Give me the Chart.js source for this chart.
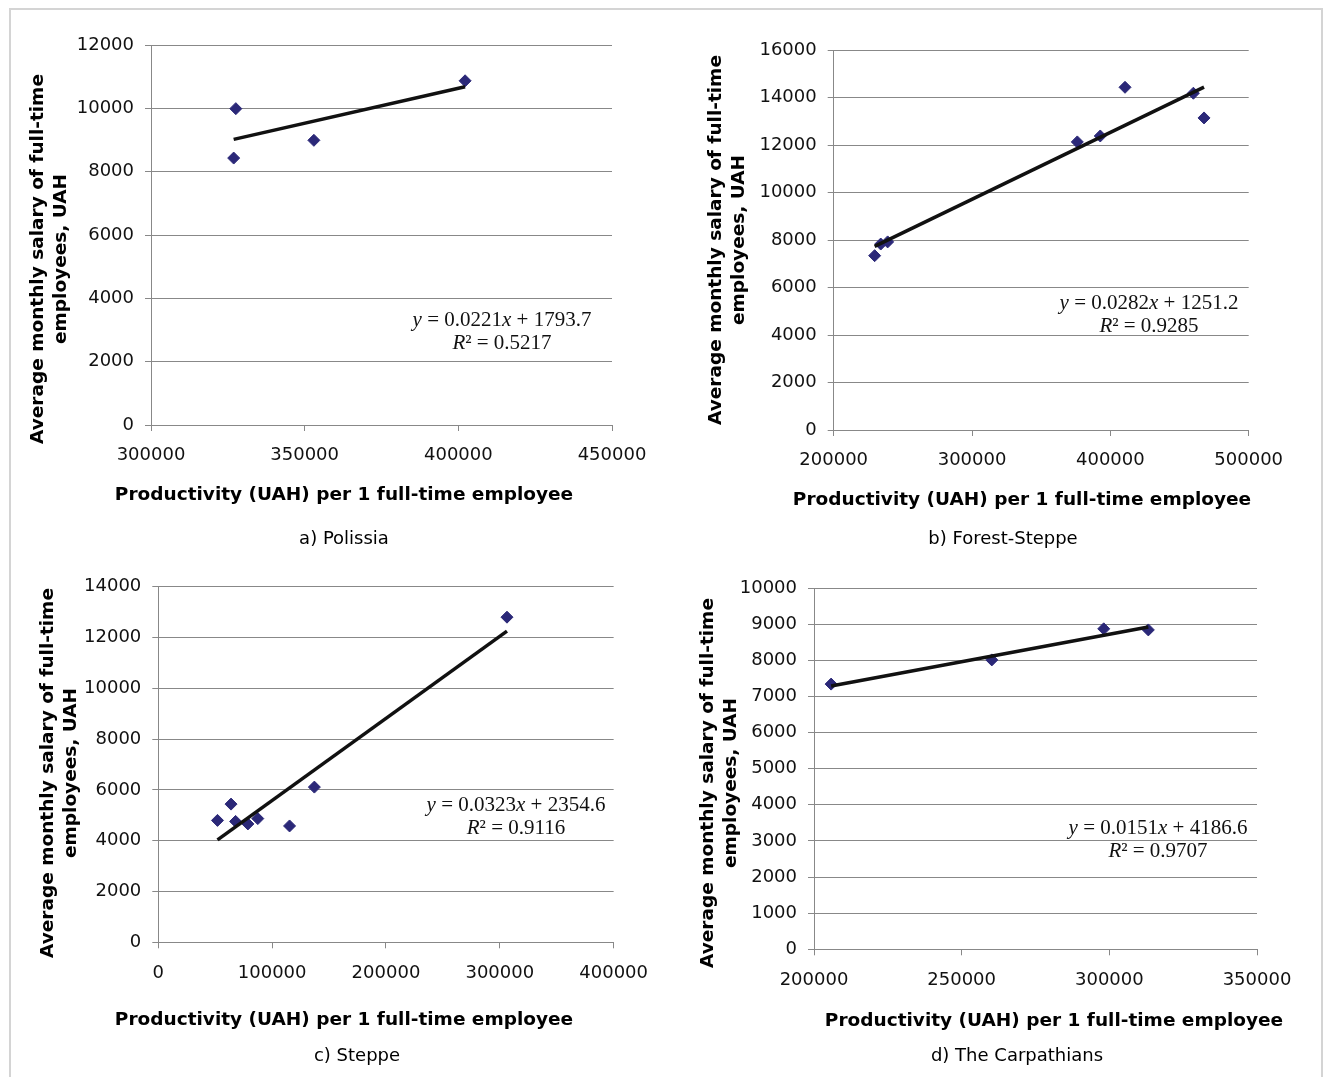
<!DOCTYPE html>
<html><head><meta charset="utf-8">
<script src="https://cdn.jsdelivr.net/npm/chart.js@4/dist/chart.umd.min.js"></script>
<style>
html,body{margin:0;padding:0;background:#fff;}
body{width:1325px;height:1077px;position:relative;overflow:hidden;}
#frame{position:absolute;left:9px;top:8px;width:1314px;height:1100px;border:2px solid #d4d4d4;box-sizing:border-box;}
canvas{position:absolute;}
</style></head><body>
<div id="frame"></div>
<canvas id="cA" width="662" height="560" style="left:0;top:0"></canvas>
<canvas id="cB" width="663" height="560" style="left:662px;top:0"></canvas>
<canvas id="cC" width="662" height="517" style="left:0;top:560px"></canvas>
<canvas id="cD" width="663" height="517" style="left:662px;top:560px"></canvas>
<script>
// ---------- data ----------
// a) Polissia
const polissiaX = [326900, 327600, 353000, 402200];
const polissiaY = [8430, 9990, 8990, 10870];
const polissiaTrendX = [326900, 402200];
const polissiaTrendY = [9020, 10680];
const polissiaTicksX = [300000, 350000, 400000, 450000];
const polissiaTicksY = [0, 2000, 4000, 6000, 8000, 10000, 12000];
const polissiaEq = ['y = 0.0221x + 1793.7', 'R² = 0.5217'];

// b) Forest-Steppe
const forestX = [229600, 234000, 239000, 376100, 392700, 410600, 460000, 467700];
const forestY = [7340, 7830, 7920, 12130, 12380, 14430, 14180, 13140];
const forestTrendX = [229600, 467700];
const forestTrendY = [7730, 14440];
const forestTicksX = [200000, 300000, 400000, 500000];
const forestTicksY = [0, 2000, 4000, 6000, 8000, 10000, 12000, 14000, 16000];
const forestEq = ['y = 0.0282x + 1251.2', 'R² = 0.9285'];

// c) Steppe
const steppeX = [52000, 63900, 67900, 78700, 87400, 115300, 137100, 306300];
const steppeY = [4800, 5440, 4760, 4660, 4870, 4580, 6110, 12800];
const steppeTrendX = [52000, 306300];
const steppeTrendY = [4030, 12250];
const steppeTicksX = [0, 100000, 200000, 300000, 400000];
const steppeTicksY = [0, 2000, 4000, 6000, 8000, 10000, 12000, 14000];
const steppeEq = ['y = 0.0323x + 2354.6', 'R² = 0.9116'];

// d) The Carpathians
const carpX = [205800, 260200, 298100, 313200];
const carpY = [7340, 8010, 8870, 8840];
const carpTrendX = [205800, 313200];
const carpTrendY = [7290, 8920];
const carpTicksX = [200000, 250000, 300000, 350000];
const carpTicksY = [0, 1000, 2000, 3000, 4000, 5000, 6000, 7000, 8000, 9000, 10000];
const carpEq = ['y = 0.0151x + 4186.6', 'R² = 0.9707'];

const yTitleLines = ['Average monthly salary of full-time', 'employees, UAH'];
const xTitleText = 'Productivity (UAH) per 1 full-time employee';
const captions = ['a) Polissia', 'b) Forest-Steppe', 'c) Steppe', 'd) The Carpathians'];

// ---------- drawing ----------
const GRID = '#888888';
const MARK = '#2b2878';
const Y_W = 95, X_H = 40;

function drawRich(ctx, text, cx, cy) {
  const normal = '21px "Liberation Serif"', ital = 'italic 21px "Liberation Serif"';
  const segs = [];
  for (const ch of text) {
    const it = /[xyR]/.test(ch);
    if (segs.length && segs[segs.length - 1].it === it) segs[segs.length - 1].t += ch;
    else segs.push({ t: ch, it });
  }
  let total = 0;
  segs.forEach(s => { ctx.font = s.it ? ital : normal; s.w = ctx.measureText(s.t).width; total += s.w; });
  let x = cx - total / 2;
  ctx.textAlign = 'left';
  segs.forEach(s => { ctx.font = s.it ? ital : normal; ctx.fillText(s.t, x, cy); x += s.w; });
}

const panelText = {
  id: 'panelText',
  afterDraw(chart, args, o) {
    const ctx = chart.ctx;
    ctx.save();
    ctx.translate(-o.ox, -o.oy);
    ctx.fillStyle = '#000';
    ctx.textBaseline = 'middle';
    ctx.textAlign = 'center';
    ctx.font = 'bold 18.5px "DejaVu Sans"';
    yTitleLines.forEach((ln, i) => {
      ctx.save();
      ctx.translate(o.yx[i], o.yy);
      ctx.rotate(-Math.PI / 2);
      ctx.fillText(ln, 0, 0);
      ctx.restore();
    });
    ctx.fillText(xTitleText, o.xt[0], o.xt[1]);
    ctx.font = '18px "DejaVu Sans"';
    ctx.fillText(o.cap, o.cp[0], o.cp[1]);
    ctx.fillStyle = '#111';
    o.eq.forEach((ln, i) => drawRich(ctx, ln, o.ex, o.ey[i]));
    ctx.restore();
  }
};

function pts(xs, ys) { return xs.map((x, i) => ({ x, y: ys[i] })); }

function makeChart(id, p) {
  const xs = p.ticksX, ys = p.ticksY;
  return new Chart(document.getElementById(id), {
    type: 'scatter',
    data: {
      datasets: [
        { data: pts(p.trendX, p.trendY), showLine: true, borderColor: '#111', borderWidth: 3.5,
          pointRadius: 0, fill: false, tension: 0 },
        { data: pts(p.x, p.y), pointStyle: 'rectRot', pointRadius: 6,
          backgroundColor: MARK, borderColor: MARK, borderWidth: 1 }
      ]
    },
    options: {
      responsive: false, animation: false, events: [],
      layout: { padding: { left: p.L - p.ox - Y_W, top: p.T - p.oy, right: p.ox + p.w - p.R, bottom: p.oy + p.h - p.B - X_H } },
      plugins: {
        legend: { display: false }, tooltip: { enabled: false },
        panelText: { ox: p.ox, oy: p.oy, yx: p.yx, yy: p.yy, xt: p.xt, cap: p.cap, cp: p.cp, eq: p.eq, ex: p.ex, ey: p.ey }
      },
      scales: {
        x: {
          type: 'linear', position: 'bottom', min: xs[0], max: xs[xs.length - 1],
          afterBuildTicks: s => { s.ticks = xs.map(v => ({ value: v })); },
          afterFit: s => { s.height = X_H; },
          grid: { drawOnChartArea: false, drawTicks: true, tickLength: 6, color: GRID },
          border: { display: true, color: GRID },
          ticks: { padding: 14, maxRotation: 0, autoSkip: false, color: '#111',
                   font: { family: 'DejaVu Sans', size: 18 }, callback: v => String(v) }
        },
        y: {
          type: 'linear', position: 'left', min: ys[0], max: ys[ys.length - 1],
          afterBuildTicks: s => { s.ticks = ys.map(v => ({ value: v })); },
          afterFit: s => { s.width = Y_W; },
          grid: { drawTicks: true, tickLength: 6, color: GRID },
          border: { display: true, color: GRID },
          ticks: { padding: 11, autoSkip: false, color: '#111',
                   font: { family: 'DejaVu Sans', size: 18 }, callback: v => String(v) }
        }
      }
    },
    plugins: [panelText]
  });
}

makeChart('cA', { ox: 0, oy: 0, w: 662, h: 560, L: 151, R: 612, T: 45, B: 425,
  x: polissiaX, y: polissiaY, trendX: polissiaTrendX, trendY: polissiaTrendY,
  ticksX: polissiaTicksX, ticksY: polissiaTicksY,
  yx: [38, 61], yy: 259, xt: [344, 495], cap: captions[0], cp: [344, 539],
  eq: polissiaEq, ex: 502, ey: [320, 343] });

makeChart('cB', { ox: 662, oy: 0, w: 663, h: 560, L: 833.7, R: 1248.7, T: 50, B: 430,
  x: forestX, y: forestY, trendX: forestTrendX, trendY: forestTrendY,
  ticksX: forestTicksX, ticksY: forestTicksY,
  yx: [716, 739], yy: 240, xt: [1022, 500], cap: captions[1], cp: [1003, 539],
  eq: forestEq, ex: 1149, ey: [303, 326] });

makeChart('cC', { ox: 0, oy: 560, w: 662, h: 517, L: 158.3, R: 617.7, T: 586.7, B: 942.3,
  x: steppeX, y: steppeY, trendX: steppeTrendX, trendY: steppeTrendY,
  ticksX: steppeTicksX, ticksY: steppeTicksY,
  yx: [48, 71], yy: 773, xt: [344, 1020], cap: captions[2], cp: [357, 1056],
  eq: steppeEq, ex: 516, ey: [805, 828] });

makeChart('cD', { ox: 662, oy: 560, w: 663, h: 517, L: 814, R: 1257, T: 588, B: 949.3,
  x: carpX, y: carpY, trendX: carpTrendX, trendY: carpTrendY,
  ticksX: carpTicksX, ticksY: carpTicksY,
  yx: [708, 731], yy: 783, xt: [1054, 1021], cap: captions[3], cp: [1017, 1056],
  eq: carpEq, ex: 1158, ey: [828, 851] });
</script>
</body></html>
